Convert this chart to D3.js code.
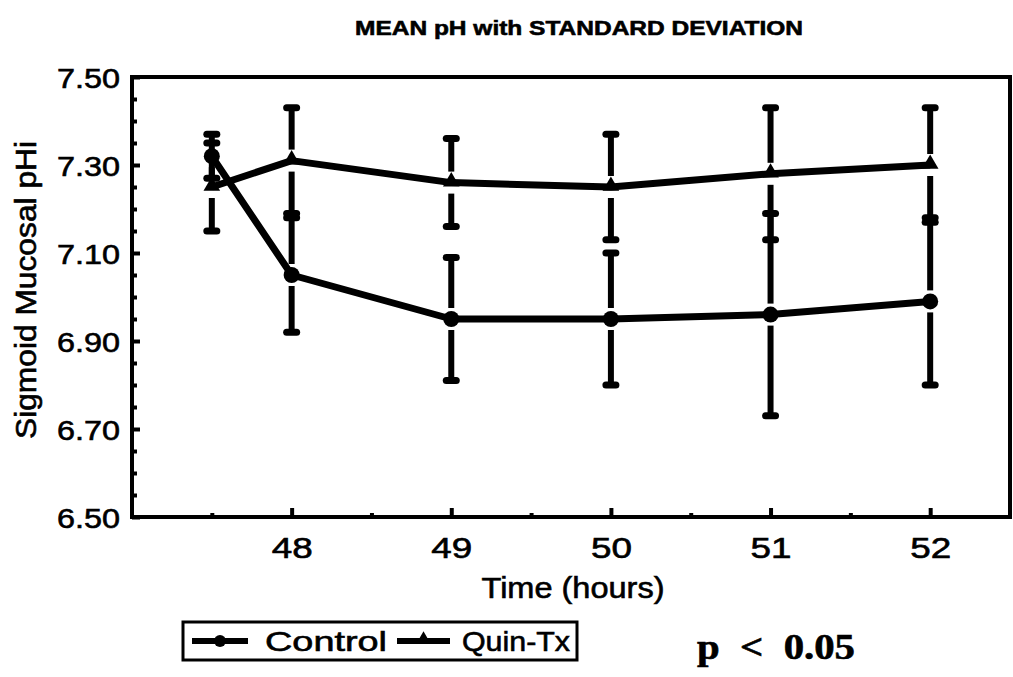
<!DOCTYPE html>
<html>
<head>
<meta charset="utf-8">
<script src="https://cdn.jsdelivr.net/npm/d3@7"></script>
<style>
  body { margin: 0; background: #fff; }
  svg { display: block; }
  text { font-family: "Liberation Sans", Arial, sans-serif; fill: #000; stroke: #000; stroke-width: 0.6px; }
</style>
</head>
<body>
<div id="chart"></div>
<script>
// Data
const times = [47.5, 48, 49, 50, 51, 52];
const controlMean = [7.32, 7.05, 6.95, 6.95, 6.96, 6.99];
const controlSD = [0.05, 0.13, 0.14, 0.15, 0.23, 0.19];
const quinMean = [7.25, 7.31, 7.26, 7.25, 7.28, 7.30];
const quinSD = [0.10, 0.12, 0.10, 0.12, 0.15, 0.13];

const yTicks = [6.50, 6.70, 6.90, 7.10, 7.30, 7.50];
const yMinorTicks = [6.55, 6.60, 6.65, 6.75, 6.80, 6.85, 6.95, 7.00, 7.05, 7.15, 7.20, 7.25, 7.35, 7.40, 7.45];
const xTicks = [48, 49, 50, 51, 52];
const xMinorTicks = [47.5, 48.5, 49.5, 50.5, 51.5];
const seriesNames = ["Control", "Quin-Tx"];

// SVG dimensions
const w = 1013;
const h = 677;
const padLeft = 132;
const padRight = 1010;
const padTop = 77;
const padBottom = 517;

const svg = d3.select("#chart")
    .append("svg")
    .attr("width", w)
    .attr("height", h);

// Scales
const xScale = d3.scaleLinear()
    .domain([47, 52.5])
    .range([padLeft, padRight]);

const yScale = d3.scaleLinear()
    .domain([6.5, 7.5])
    .range([padBottom, padTop]);

// Title
svg.append("text")
    .attr("x", 579)
    .attr("y", 35)
    .attr("text-anchor", "middle")
    .style("font-weight", "bold")
    .style("font-size", "21px")
    .attr("textLength", 448)
    .attr("lengthAdjust", "spacingAndGlyphs")
    .text("MEAN pH with STANDARD DEVIATION");

// Minor y ticks, pointing inward
svg.append("g")
    .attr("transform", "translate(" + padLeft + ",0)")
    .call(d3.axisLeft(yScale)
        .tickValues(yMinorTicks)
        .tickSize(-5)
        .tickFormat(""))
    .call(g => g.select(".domain").remove())
    .selectAll("line").attr("stroke-width", 4);

// Major y ticks with labels
const yAxis = svg.append("g")
    .attr("transform", "translate(" + padLeft + ",0)")
    .call(d3.axisLeft(yScale)
        .tickValues(yTicks)
        .tickSize(-8)
        .tickPadding(12)
        .tickFormat(d3.format(".2f")));
yAxis.select(".domain").remove();
yAxis.selectAll("line").attr("stroke-width", 4);
yAxis.selectAll("text")
    .style("font-size", "28px")
    .attr("textLength", 63)
    .attr("lengthAdjust", "spacingAndGlyphs")
    .attr("dy", "0.36em");

// x ticks: half hours small, hours longer
svg.append("g")
    .attr("transform", "translate(0," + padBottom + ")")
    .call(d3.axisBottom(xScale)
        .tickValues(xMinorTicks)
        .tickSize(-4)
        .tickFormat(""))
    .call(g => g.select(".domain").remove())
    .selectAll("line").attr("stroke-width", 4);

const xAxis = svg.append("g")
    .attr("transform", "translate(0," + padBottom + ")")
    .call(d3.axisBottom(xScale)
        .tickValues(xTicks)
        .tickSize(-9)
        .tickFormat(d3.format("d")));
xAxis.select(".domain").remove();
xAxis.selectAll("line").attr("stroke-width", 4);
xAxis.selectAll("text")
    .style("font-size", "29px")
    .attr("textLength", 41)
    .attr("lengthAdjust", "spacingAndGlyphs")
    .attr("dy", "0.71em")
    .attr("y", 20);

// Frame
svg.append("rect")
    .attr("x", padLeft)
    .attr("y", padTop)
    .attr("width", padRight - padLeft)
    .attr("height", padBottom - padTop)
    .attr("fill", "none")
    .attr("stroke", "#000")
    .attr("stroke-width", 4);

// Axis titles
svg.append("text")
    .attr("x", 573)
    .attr("y", 598)
    .attr("text-anchor", "middle")
    .style("font-size", "29px")
    .attr("textLength", 183)
    .attr("lengthAdjust", "spacingAndGlyphs")
    .text("Time (hours)");

svg.append("text")
    .attr("transform", "translate(36,290) rotate(-90)")
    .attr("text-anchor", "middle")
    .style("font-size", "29px")
    .attr("textLength", 298)
    .attr("lengthAdjust", "spacingAndGlyphs")
    .text("Sigmoid Mucosal pHi");

// Build series
const control = times.map((t, i) => ({ t: t, m: controlMean[i], sd: controlSD[i] }));
const quin = times.map((t, i) => ({ t: t, m: quinMean[i], sd: quinSD[i] }));

// Error bars, with a small white gap at the mean marker
const gap = 11;
function drawBars(data) {
    const g = svg.append("g");
    data.forEach(function(d) {
        const x = xScale(d.t);
        const yTop = yScale(d.m + d.sd);
        const yBot = yScale(d.m - d.sd);
        const yMid = yScale(d.m);
        g.append("line")
            .attr("x1", x).attr("x2", x)
            .attr("y1", yMid - gap).attr("y2", yTop)
            .attr("stroke", "#000").attr("stroke-width", 6);
        g.append("line")
            .attr("x1", x).attr("x2", x)
            .attr("y1", yMid + gap).attr("y2", yBot)
            .attr("stroke", "#000").attr("stroke-width", 6);
        [yTop, yBot].forEach(function(yc) {
            g.append("line")
                .attr("x1", x - 5).attr("x2", x + 5)
                .attr("y1", yc).attr("y2", yc)
                .attr("stroke", "#000")
                .attr("stroke-width", 7)
                .attr("stroke-linecap", "round");
        });
    });
}
drawBars(control);
drawBars(quin);

const line = d3.line()
    .x(d => xScale(d.t))
    .y(d => yScale(d.m));

svg.append("path")
    .datum(control)
    .attr("fill", "none")
    .attr("stroke", "#000")
    .attr("stroke-width", 7)
    .attr("stroke-linejoin", "round")
    .attr("d", line);

svg.append("path")
    .datum(quin)
    .attr("fill", "none")
    .attr("stroke", "#000")
    .attr("stroke-width", 7)
    .attr("stroke-linejoin", "round")
    .attr("d", line);

// Markers
svg.selectAll("circle.ctrl")
    .data(control)
    .enter()
    .append("circle")
    .attr("class", "ctrl")
    .attr("cx", d => xScale(d.t))
    .attr("cy", d => yScale(d.m))
    .attr("r", 8)
    .attr("fill", "#000");

const tri = d3.symbol().type(d3.symbolTriangle).size(120);
svg.selectAll("path.quin")
    .data(quin)
    .enter()
    .append("path")
    .attr("class", "quin")
    .attr("transform", d => "translate(" + xScale(d.t) + "," + (yScale(d.m) - 1) + ")")
    .attr("d", tri)
    .attr("fill", "#000");

// Legend
const legend = svg.append("g");
legend.append("rect")
    .attr("x", 183)
    .attr("y", 622)
    .attr("width", 394)
    .attr("height", 38)
    .attr("fill", "none")
    .attr("stroke", "#000")
    .attr("stroke-width", 3);

const legendItems = [
    { name: seriesNames[0], x0: 192, x1: 248, tx: 265, tw: 122, shape: "circle" },
    { name: seriesNames[1], x0: 397, x1: 450, tx: 462, tw: 108, shape: "triangle" }
];
legendItems.forEach(function(it) {
    legend.append("line")
        .attr("x1", it.x0).attr("x2", it.x1)
        .attr("y1", 641).attr("y2", 641)
        .attr("stroke", "#000").attr("stroke-width", 6);
    if (it.shape === "circle") {
        legend.append("circle")
            .attr("cx", (it.x0 + it.x1) / 2)
            .attr("cy", 641)
            .attr("r", 6)
            .attr("fill", "#000");
    } else {
        legend.append("path")
            .attr("transform", "translate(" + ((it.x0 + it.x1) / 2) + ",639)")
            .attr("d", d3.symbol().type(d3.symbolTriangle).size(80))
            .attr("fill", "#000");
    }
    legend.append("text")
        .attr("x", it.tx)
        .attr("y", 651)
        .style("font-size", "28px")
        .attr("textLength", it.tw)
        .attr("lengthAdjust", "spacingAndGlyphs")
        .text(it.name);
});

// p-value note
svg.append("text")
    .attr("x", 697)
    .attr("y", 659)
    .attr("xml:space", "preserve")
    .style("font-family", "'Liberation Serif', 'Times New Roman', serif")
    .style("font-weight", "bold")
    .style("font-size", "35px")
    .style("white-space", "pre")
    .attr("textLength", 158)
    .attr("lengthAdjust", "spacingAndGlyphs")
    .text("p  <  0.05");
</script>
</body>
</html>
